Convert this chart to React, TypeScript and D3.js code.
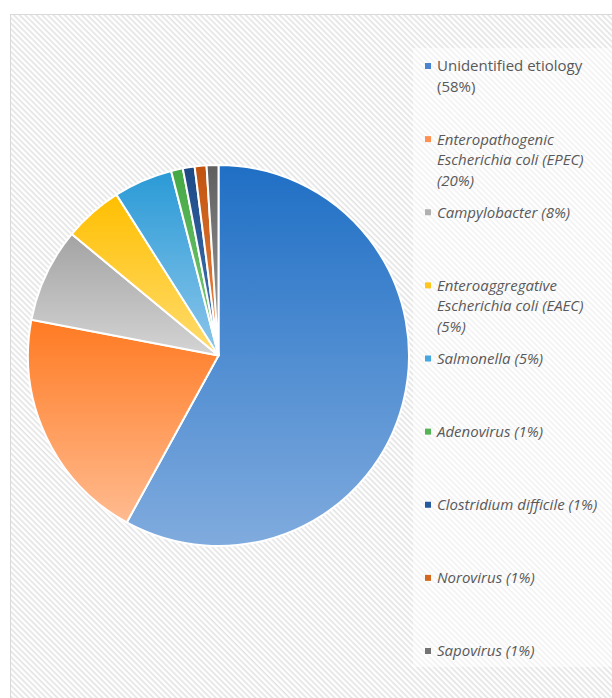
import React from 'react'
import * as d3 from 'd3'

const labels = [
  'Unidentified etiology (58%)',
  'Enteropathogenic Escherichia coli (EPEC) (20%)',
  'Campylobacter (8%)',
  'Enteroaggregative Escherichia coli (EAEC) (5%)',
  'Salmonella (5%)',
  'Adenovirus (1%)',
  'Clostridium difficile (1%)',
  'Norovirus (1%)',
  'Sapovirus (1%)',
]
// legend text split in lines as wrapped in the reference
const legendLines = [
  ['Unidentified etiology', '(58%)'],
  ['Enteropathogenic', 'Escherichia coli (EPEC)', '(20%)'],
  ['Campylobacter (8%)'],
  ['Enteroaggregative', 'Escherichia coli (EAEC)', '(5%)'],
  ['Salmonella (5%)'],
  ['Adenovirus (1%)'],
  ['Clostridium difficile (1%)'],
  ['Norovirus (1%)'],
  ['Sapovirus (1%)'],
]
const values = [58, 20, 8, 5, 5, 1, 1, 1, 1]
const italic = [false, true, true, true, true, true, true, true, true]
// [top, bottom] colours of each slice gradient
const colorsTop = ['#1f6fc5', '#ff7a22', '#a3a3a3', '#ffbf00', '#2a9ad6', '#43a843', '#1d4a85', '#c0520e', '#5f5f5f']
const colorsBottom = ['#80abde', '#ffbb90', '#d4d4d4', '#ffdc70', '#8cc6eb', '#7fcc7f', '#4677bb', '#f08a4a', '#a0a0a0']
const markerColors = ['#4a83cf', '#ff9050', '#b0b0b0', '#ffc61e', '#46a8df', '#55b455', '#265a9e', '#d2691e', '#737373']

const W = 612
const H = 698
const cx = 218.5
const cy = 355.5
const R = 190.5

export default function App() {
  const pie = d3.pie<number>().sort(null).value((d) => d)
  const arcs = pie(values)
  const arc = d3.arc<d3.PieArcDatum<number>>().innerRadius(0).outerRadius(R)

  const legendY = d3.scaleLinear().domain([0, values.length - 1]).range([66, 651])

  return (
    <div style={{ position: 'absolute', left: 0, top: 0 }}>
      <svg width={W} height={H} style={{ display: 'block' }}>
        <defs>
          <pattern id="hatch" width="4" height="4" patternUnits="userSpaceOnUse" patternTransform="rotate(45)">
            <rect width="4" height="4" fill="#ffffff" />
            <rect width="4" height="1.6" fill="#e3e3e3" />
          </pattern>
          {values.map((_, i) => (
            <linearGradient key={i} id={`g${i}`} x1="0" y1="0" x2="0" y2="1">
              <stop offset="0" stopColor={colorsTop[i]} />
              <stop offset="1" stopColor={colorsBottom[i]} />
            </linearGradient>
          ))}
        </defs>
        <rect x={0} y={0} width={W} height={H} fill="#ffffff" />
        <rect x={10.5} y={14.5} width={W + 10} height={H + 10} fill="url(#hatch)" stroke="#d9d9d9" strokeWidth={1} />

        <g transform={`translate(${cx},${cy})`}>
          {arcs.map((a, i) => (
            <path key={i} d={arc(a) || ''} fill={`url(#g${i})`} stroke="#ffffff" strokeWidth={2} strokeLinejoin="round" />
          ))}
        </g>

        <rect x={413} y={48} width={W} height={619} fill="#ffffff" fillOpacity={0.5} />
        <g fontFamily="'Open Sans', sans-serif" fontSize={15} fill="#595959">
          {legendLines.map((lines, i) => (
            <g key={i} transform={`translate(0,${legendY(i)})`}>
              <title>{labels[i]}</title>
              <rect x={425} y={-3} width={6} height={6} fill={markerColors[i]} />
              <text x={437} y={0} fontStyle={italic[i] ? 'italic' : 'normal'}>
                {lines.map((l, j) => (
                  <tspan key={j} x={437} dy={j === 0 ? '0.36em' : 20.5}>
                    {l}
                  </tspan>
                ))}
              </text>
            </g>
          ))}
        </g>
      </svg>
    </div>
  )
}
